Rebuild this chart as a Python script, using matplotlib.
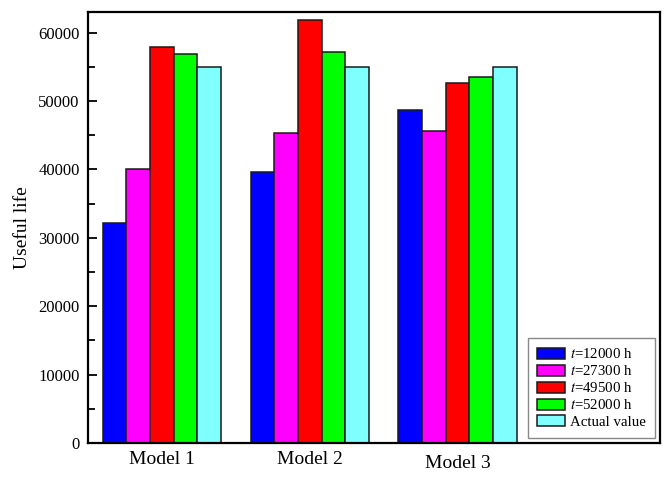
import numpy as np
import matplotlib
matplotlib.use("Agg")
import matplotlib.pyplot as plt
from matplotlib.ticker import MultipleLocator

plt.rcParams['font.family'] = ['Liberation Serif', 'DejaVu Serif']
plt.rcParams['mathtext.fontset'] = 'stix'

# data
models = ['Model 1', 'Model 2', 'Model 3']
series = ['$t$=12000 h', '$t$=27300 h', '$t$=49500 h', '$t$=52000 h', 'Actual value']
colors = ['#0000FF', '#FF00FF', '#FF0000', '#00FF00', '#80FFFF']
t12000 = [32100, 39700, 48700]
t27300 = [40000, 45300, 45650]
t49500 = [57850, 61850, 52700]
t52000 = [56900, 57200, 53500]
actual = [55000, 55000, 55000]
values = [t12000, t27300, t49500, t52000, actual]

fig = plt.figure(figsize=(6.69, 4.83), dpi=100)
ax = fig.add_axes([0.1315, 0.0828, 0.855, 0.892])

x = np.arange(1, len(models) + 1)
w = 0.16
for i, (vals, lab, c) in enumerate(zip(values, series, colors)):
    ax.bar(x + (i - 2) * w, vals, w, color=c, edgecolor='#1a1a1a',
           linewidth=1.1, label=lab)

ax.set_xlim(0.5, 4.37)
ax.set_ylim(0, 63000)
ax.set_xticks(x)
ax.set_xticklabels(models, fontsize=14)
ax.tick_params(axis='x', length=0, pad=6)
ax.yaxis.set_major_locator(MultipleLocator(10000))
ax.yaxis.set_minor_locator(MultipleLocator(5000))
ax.tick_params(axis='y', which='major', direction='in', length=6.5, width=1.3, labelsize=12, pad=6)
ax.tick_params(axis='y', which='minor', direction='in', length=5, width=1.3)
ax.set_ylabel('Useful life', fontsize=14, labelpad=5)
for s in ax.spines.values():
    s.set_linewidth(1.6)

# the third label sits a little lower in the reference
ax.get_xticklabels()[2].set_y(-0.008)

leg = ax.legend(loc='lower right', fontsize=10.7, fancybox=False, framealpha=1,
                edgecolor='#888888', borderaxespad=0.35, handlelength=1.9,
                handleheight=0.75, labelspacing=0.2, handletextpad=0.35,
                borderpad=0.6)
leg.get_frame().set_linewidth(1.0)

fig.savefig('out.png', dpi=100)
